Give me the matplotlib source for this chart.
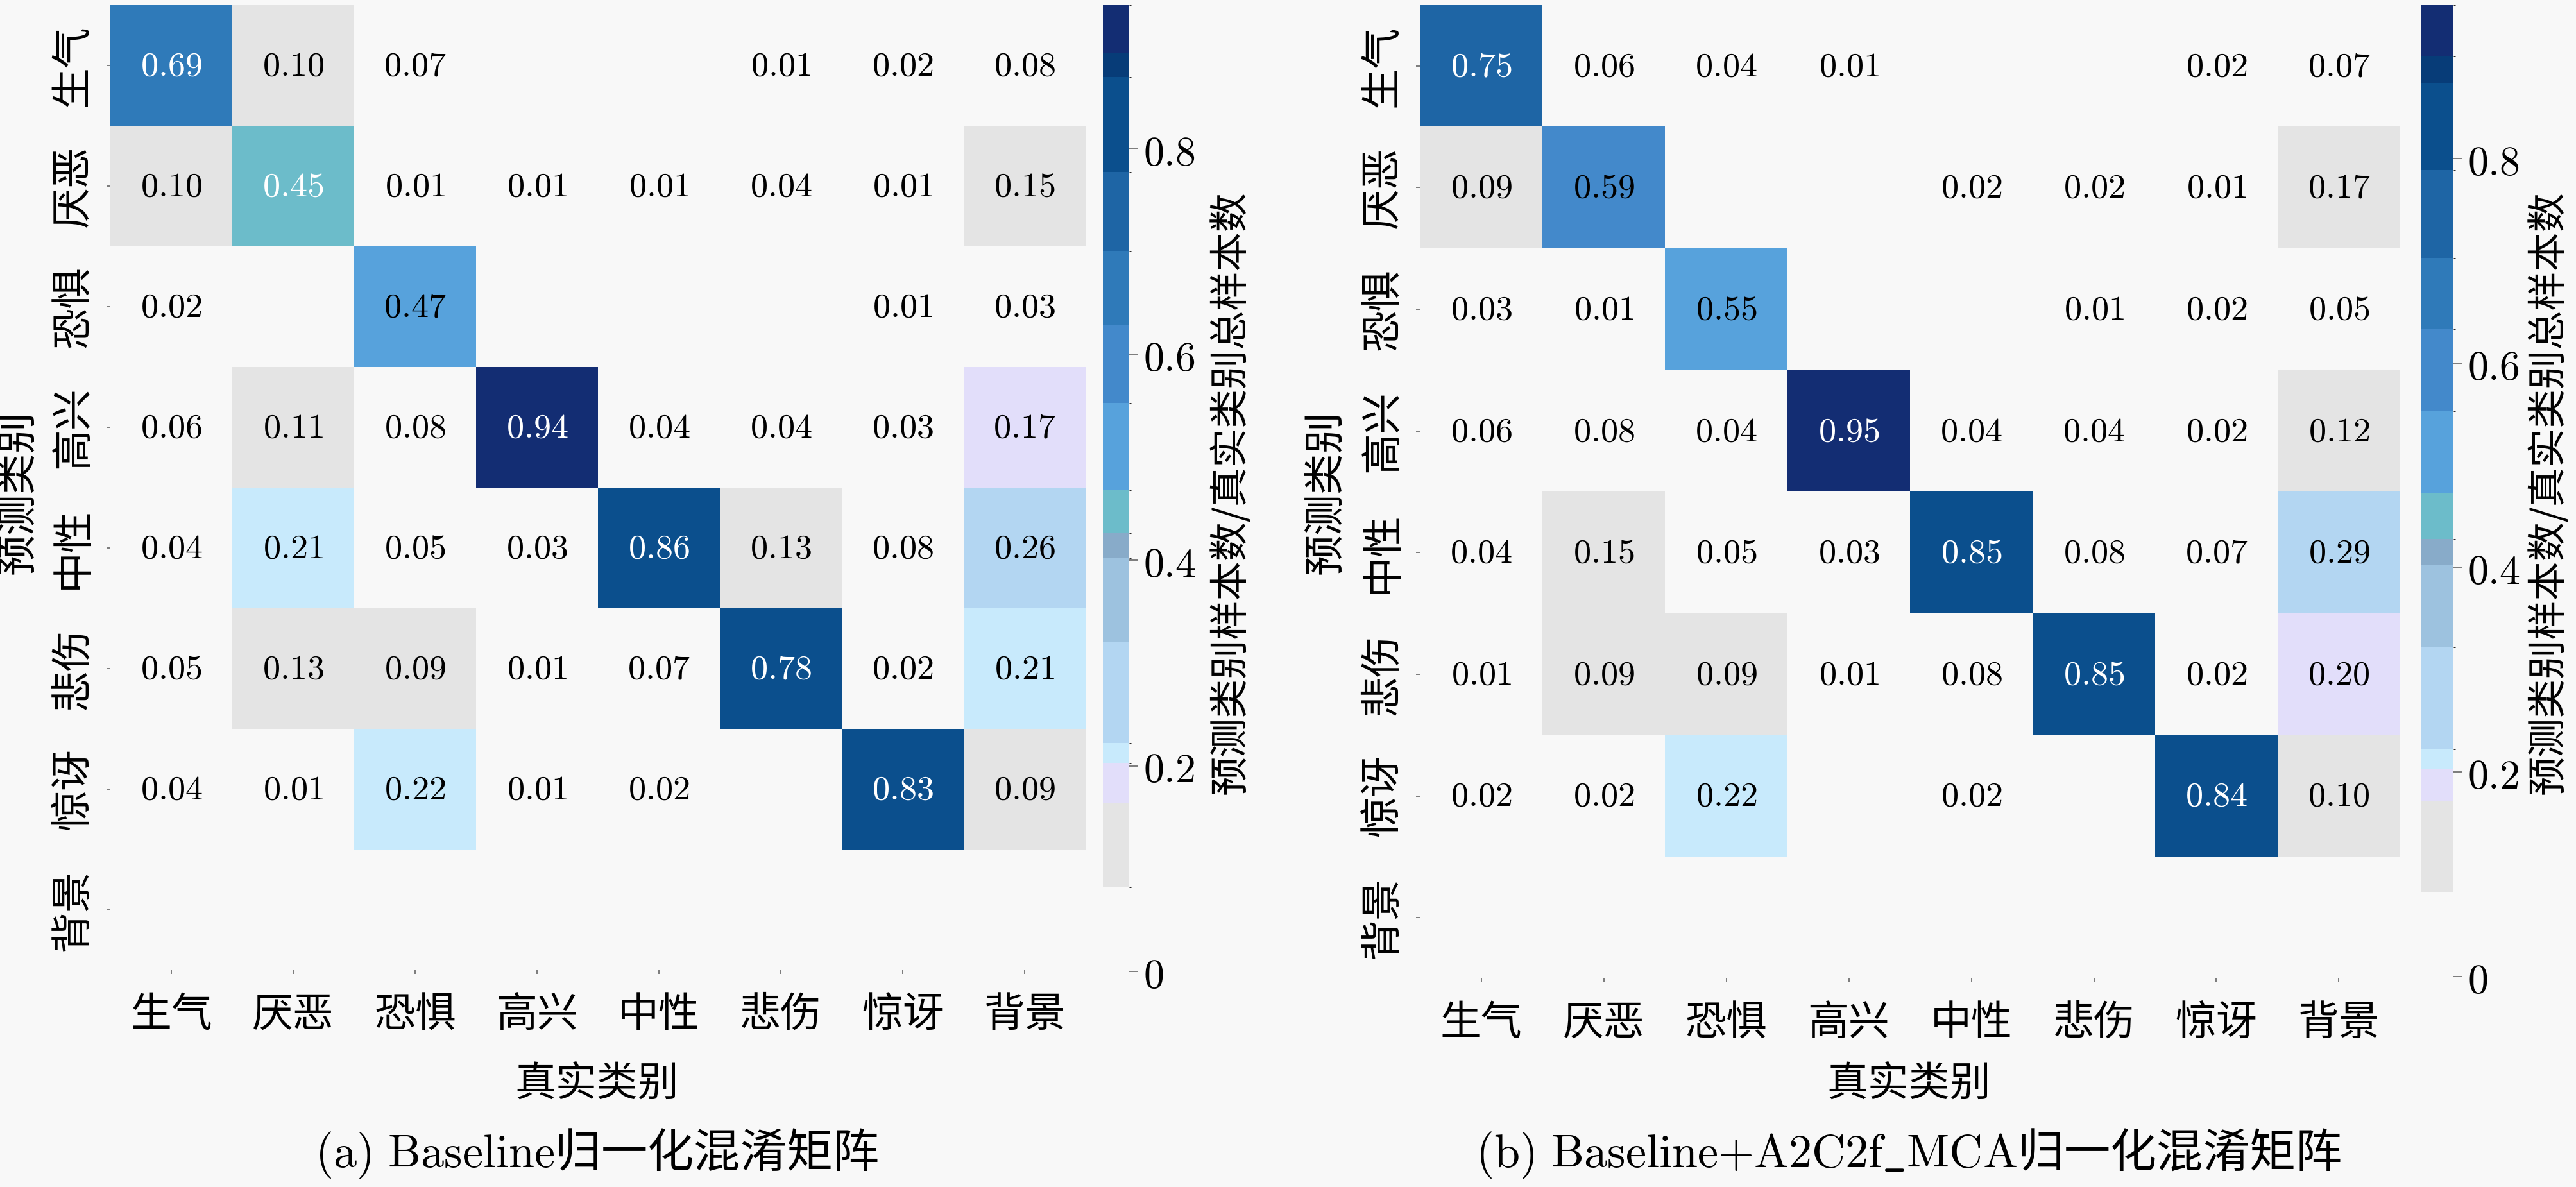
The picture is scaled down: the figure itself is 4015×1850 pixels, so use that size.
import matplotlib
matplotlib.use('Agg')
import matplotlib.pyplot as plt
from matplotlib.colors import ListedColormap, BoundaryNorm
import numpy as np

plt.rcParams['font.family'] = ['Noto Sans CJK SC', 'DejaVu Sans']
plt.rcParams['mathtext.fontset'] = 'cm'

W, H = 4016, 1850
BG = '#f8f8f8'

# rows = predicted class, columns = true class
classes = ['生气', '厌恶', '恐惧', '高兴', '中性', '悲伤', '惊讶', '背景']

cm_baseline = [
    [0.69, 0.10, 0.07, 0.00, 0.00, 0.01, 0.02, 0.08],
    [0.10, 0.45, 0.01, 0.01, 0.01, 0.04, 0.01, 0.15],
    [0.02, 0.00, 0.47, 0.00, 0.00, 0.00, 0.01, 0.03],
    [0.06, 0.11, 0.08, 0.94, 0.04, 0.04, 0.03, 0.17],
    [0.04, 0.21, 0.05, 0.03, 0.86, 0.13, 0.08, 0.26],
    [0.05, 0.13, 0.09, 0.01, 0.07, 0.78, 0.02, 0.21],
    [0.04, 0.01, 0.22, 0.01, 0.02, 0.00, 0.83, 0.09],
    [0.00, 0.00, 0.00, 0.00, 0.00, 0.00, 0.00, 0.00],
]

cm_mca = [
    [0.75, 0.06, 0.04, 0.01, 0.00, 0.00, 0.02, 0.07],
    [0.09, 0.59, 0.00, 0.00, 0.02, 0.02, 0.01, 0.17],
    [0.03, 0.01, 0.55, 0.00, 0.00, 0.01, 0.02, 0.05],
    [0.06, 0.08, 0.04, 0.95, 0.04, 0.04, 0.02, 0.12],
    [0.04, 0.15, 0.05, 0.03, 0.85, 0.08, 0.07, 0.29],
    [0.01, 0.09, 0.09, 0.01, 0.08, 0.85, 0.02, 0.20],
    [0.02, 0.02, 0.22, 0.00, 0.02, 0.00, 0.84, 0.10],
    [0.00, 0.00, 0.00, 0.00, 0.00, 0.00, 0.00, 0.00],
]

# stepped colour scale, lowest step blends with the background
level_colors = ['#f8f8f8', '#e4e4e4', '#e2defa', '#c8eafc', '#b3d6f2',
                '#9dc2df', '#88abc9', '#6cbcca', '#57a2dc', '#4389cb',
                '#2f7ab9', '#1e65a5', '#0b4f8d', '#073c78', '#132d73']
# step edges
bounds_baseline = [0, 0.082, 0.164, 0.203, 0.222, 0.321, 0.402, 0.426, 0.468,
                   0.553, 0.629, 0.701, 0.778, 0.87, 0.894]
bounds_mca = [0, 0.083, 0.172, 0.203, 0.222, 0.322, 0.403, 0.428, 0.473,
              0.553, 0.633, 0.703, 0.789, 0.874, 0.90]
level_text = ['black'] * 7 + ['white'] + ['black'] * 2 + ['white'] * 5


def rect(x0, y0, x1, y1):
    # pixel box (top-left origin) -> figure fraction rect
    return [x0 / W, 1 - y1 / H, (x1 - x0) / W, (y1 - y0) / H]


def draw_panel(fig, mat, bounds, hm_box, cb_box, ylab_x, cblab_x, cx, caption):
    mat = np.array(mat)
    ax = fig.add_axes(rect(*hm_box))
    cax = fig.add_axes(rect(*cb_box))
    ax.set_facecolor(BG)
    cax.set_facecolor(BG)

    cmap = ListedColormap(level_colors)
    norm = BoundaryNorm(bounds + [mat.max()], cmap.N)
    im = ax.imshow(mat, cmap=cmap, norm=norm, aspect='auto', interpolation='nearest')

    for i in range(mat.shape[0]):
        for j in range(mat.shape[1]):
            v = mat[i, j]
            if v <= 0:
                continue
            k = int(np.clip(norm(v), 0, cmap.N - 1))
            ax.text(j, i, '$%.2f$' % v, ha='center', va='center',
                    fontsize=39, color=level_text[k])

    n = len(classes)
    ax.set_xticks(range(n))
    ax.set_yticks(range(n))
    ax.set_xticklabels(classes, fontsize=46)
    ax.set_yticklabels(classes, fontsize=46, rotation=90, va='center')
    ax.tick_params(axis='x', length=4, width=1.2, color='#666666', pad=22)
    ax.tick_params(axis='y', length=4, width=1.2, color='#666666', pad=14)
    for s in ax.spines.values():
        s.set_visible(False)

    cbar = fig.colorbar(im, cax=cax, spacing='proportional',
                        ticks=[0, 0.2, 0.4, 0.6, 0.8])
    cbar.outline.set_visible(False)
    cbar.ax.set_yticklabels(['$0$', '$0.2$', '$0.4$', '$0.6$', '$0.8$'], fontsize=46)
    cbar.ax.tick_params(length=10, width=1.2, color='#666666', pad=6)

    fig.text(ylab_x / W, 1 - 767 / H, '预测类别', rotation=90,
             ha='center', va='center', fontsize=46)
    fig.text(cblab_x / W, 1 - 768 / H, '预测类别样本数/真实类别总样本数', rotation=90,
             ha='center', va='center', fontsize=44)
    fig.text(cx / W, 1 - 1689 / H, '真实类别', ha='center', va='center', fontsize=46)
    fig.text(cx / W, 1 - 1798 / H, caption, ha='center', va='center', fontsize=52)


fig = plt.figure(figsize=(W / 100, H / 100), dpi=100, facecolor=BG)

draw_panel(fig, cm_baseline, bounds_baseline, (172, 8, 1692, 1512), (1719, 8, 1760, 1514),
           28, 1918, 930, r'$\mathrm{(a)\ Baseline}$归一化混淆矩阵')
draw_panel(fig, cm_mca, bounds_mca, (2213, 8, 3741, 1525), (3773, 8, 3824, 1522),
           2066, 3972, 2975, r'$\mathrm{(b)\ Baseline{+}A2C2f\_MCA}$归一化混淆矩阵')

fig.savefig('out.png', dpi=100, facecolor=BG)
